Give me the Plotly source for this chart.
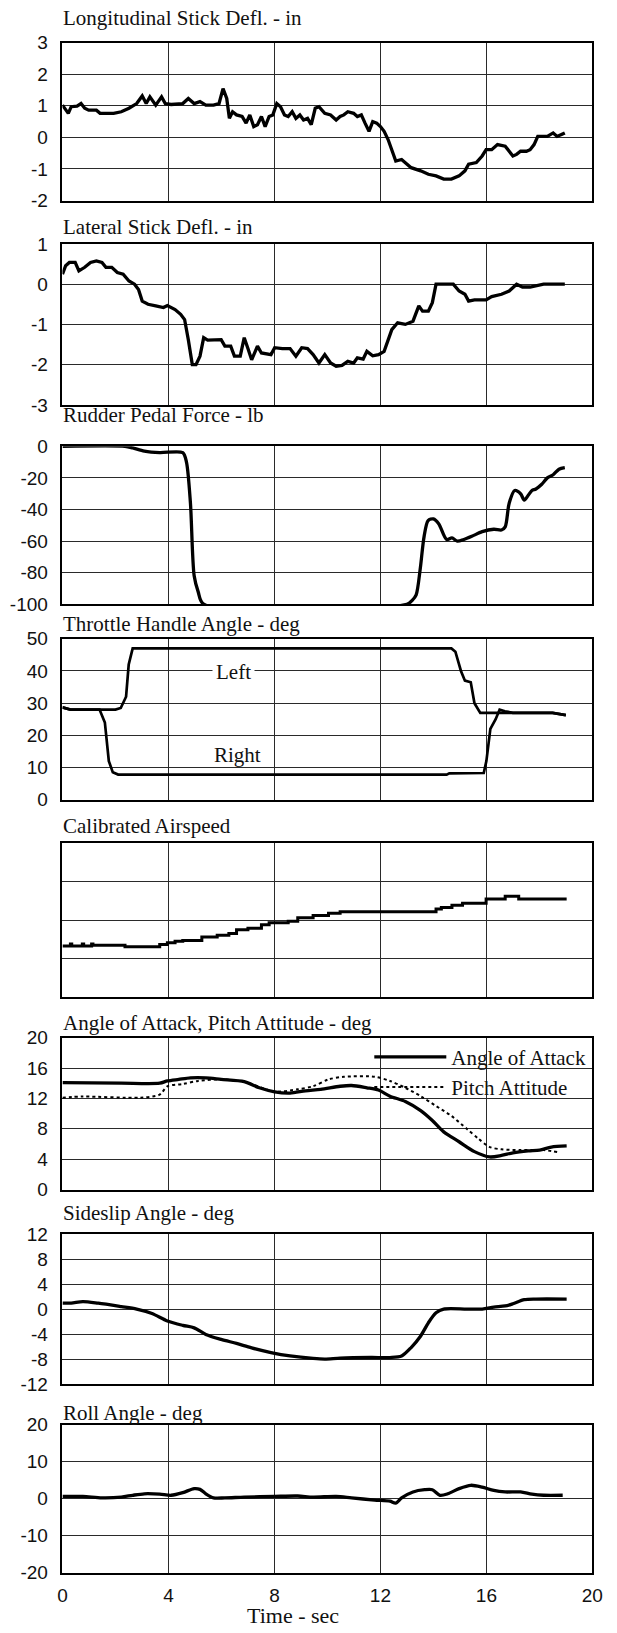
import plotly.graph_objects as go

W, H = 617, 1633

# ---------------- data (time in s) ----------------
long_t = [0.0,0.12,0.22,0.33,0.55,0.70,0.84,0.99,1.28,1.42,1.93,2.22,2.51,2.80,3.01,3.16,3.30,3.52,3.74,3.88,
          4.10,4.54,4.75,4.97,5.19,5.41,5.70,5.91,6.06,6.20,6.30,6.42,6.57,6.78,6.93,7.07,7.22,7.36,7.51,7.65,
          7.80,7.94,8.09,8.23,8.38,8.52,8.67,8.81,8.96,9.10,9.25,9.39,9.54,9.68,9.90,10.12,10.33,10.48,10.62,10.77,
          10.99,11.13,11.28,11.42,11.57,11.71,11.86,12.00,12.14,12.29,12.43,12.58,12.80,13.01,13.16,13.52,13.81,14.10,14.39,14.68,
          14.97,15.19,15.33,15.62,15.84,15.99,16.20,16.42,16.71,16.86,17.00,17.14,17.29,17.51,17.65,17.80,17.94,18.09,18.30,18.52,
          18.67,18.81,18.96]
long_v = [1.02,0.86,0.76,0.97,0.99,1.07,0.92,0.86,0.86,0.76,0.76,0.81,0.92,1.07,1.31,1.07,1.28,1.02,1.28,1.07,
          1.04,1.07,1.23,1.07,1.13,1.02,1.02,1.07,1.54,1.23,0.60,0.81,0.71,0.66,0.45,0.71,0.34,0.40,0.66,0.34,
          0.66,0.71,1.07,0.97,0.71,0.66,0.81,0.60,0.71,0.55,0.60,0.40,0.92,0.97,0.76,0.71,0.55,0.66,0.71,0.81,
          0.76,0.66,0.71,0.45,0.19,0.50,0.45,0.34,0.19,-0.07,-0.44,-0.75,-0.70,-0.85,-0.96,-1.06,-1.17,-1.22,-1.32,-1.32,
          -1.22,-1.06,-0.85,-0.80,-0.59,-0.39,-0.39,-0.23,-0.28,-0.44,-0.59,-0.54,-0.44,-0.44,-0.39,-0.23,0.03,0.03,0.03,0.14,
          0.03,0.08,0.14]

lat_t = [0.0,0.12,0.26,0.48,0.62,0.84,1.06,1.28,1.49,1.64,1.86,2.07,2.29,2.51,2.72,2.87,3.01,3.23,3.52,3.81,
         3.96,4.25,4.46,4.61,4.75,4.90,5.04,5.19,5.33,5.48,5.99,6.13,6.35,6.49,6.71,6.86,7.00,7.14,7.36,7.51,
         7.87,8.01,8.30,8.59,8.81,9.03,9.25,9.46,9.68,9.90,10.12,10.33,10.55,10.77,10.99,11.13,11.35,11.49,11.71,11.93,
         12.14,12.29,12.43,12.65,12.94,13.23,13.45,13.59,13.81,13.96,14.10,14.25,14.75,14.97,15.19,15.33,15.55,15.99,16.20,16.57,
         16.86,17.14,17.36,17.65,17.87,18.16,18.96]
lat_v = [0.25,0.46,0.54,0.54,0.33,0.42,0.54,0.58,0.54,0.42,0.42,0.29,0.25,0.08,0.0,-0.13,-0.42,-0.50,-0.54,-0.58,
         -0.53,-0.63,-0.75,-0.88,-1.38,-2.0,-2.0,-1.79,-1.33,-1.39,-1.38,-1.54,-1.54,-1.79,-1.79,-1.33,-1.6,-1.88,-1.54,-1.71,
         -1.75,-1.58,-1.6,-1.6,-1.79,-1.58,-1.6,-1.75,-1.96,-1.75,-1.96,-2.04,-2.02,-1.92,-1.96,-1.83,-1.86,-1.67,-1.78,-1.75,
         -1.67,-1.38,-1.13,-0.96,-1.0,-0.92,-0.54,-0.67,-0.67,-0.46,0.0,0.0,0.0,-0.17,-0.25,-0.42,-0.39,-0.39,-0.31,-0.25,
         -0.17,0.0,-0.07,-0.07,-0.04,0.0,0.0]

rud_t = [0,2.36,2.65,3.09,3.67,4.54,4.68,4.83,4.97,5.12,5.33,13.0,13.2,13.35,13.5,13.65,13.8,14.0,14.2,14.5,
         14.7,14.9,15.15,15.45,15.84,16.28,16.57,16.71,16.86,17.07,17.29,17.43,17.58,17.72,17.87,18.09,18.30,18.52,18.74,18.96]
rud_v = [0,0,-1,-3,-4,-4,-10,-36,-82,-92,-100,-100,-97.5,-94,-78,-57,-47,-46,-49,-59,
         -58,-60,-59,-57,-54,-52.5,-53,-51,-36,-28,-30,-34,-31,-28,-27,-24,-20,-18,-14.5,-13.5]

thr_left_t = [0,0.3,2.0,2.2,2.4,2.5,2.65,14.68,14.83,15.04,15.19,15.41,15.55,15.77,16.5,17.0,18.5,19.0]
thr_left_v = [28.7,28,28,28.5,32,42,47,47,46,40,37,36.5,30,27,27,27,27,26.3]
thr_right_t = [0,0.3,1.4,1.6,1.75,1.9,2.1,14.5,14.6,15.9,16.0,16.15,16.35,16.5,16.7,17.0,18.5,19.0]
thr_right_v = [28.7,28,28,24,12,8.5,7.8,7.8,8.2,8.3,12,22,25,28,27.5,27,27,26.3]

cas_t = [0,0.3,0.35,0.75,0.8,1.1,1.15,2.36,3.67,3.96,4.25,4.54,5.26,5.84,6.28,6.57,7.0,7.51,7.80,8.52,
         8.88,9.46,10.04,10.48,14.1,14.3,14.7,15.1,15.99,16.71,17.22,19.03]
cas_v = [1.33,1.38,1.33,1.38,1.33,1.38,1.35,1.31,1.37,1.41,1.45,1.47,1.56,1.61,1.65,1.75,1.79,1.88,1.93,1.97,
         2.06,2.12,2.18,2.22,2.29,2.33,2.39,2.44,2.55,2.62,2.55,2.55]

aoa_t = [0,2.22,3.67,3.96,4.39,4.83,5.41,5.99,6.86,7.43,8.01,8.59,9.17,9.75,10.48,10.91,11.49,11.93,12.36,12.94,
         13.52,13.96,14.39,14.97,15.55,16.13,16.57,17.0,17.58,18.01,18.45,19.03]
aoa_v = [14.07,14.0,14.0,14.3,14.5,14.7,14.7,14.5,14.2,13.4,12.86,12.7,13.0,13.2,13.6,13.7,13.4,13.1,12.3,11.6,
         10.4,9.1,7.6,6.3,5.0,4.3,4.5,4.85,5.1,5.2,5.6,5.75]
pitch_t = [0,0.77,2.94,3.67,3.96,4.54,5.12,5.99,6.86,8.01,8.88,9.46,10.04,10.62,11.78,12.36,12.94,13.52,14.10,14.68,
           15.26,15.70,16.13,16.57,17.29,18.16,18.74]
pitch_v = [12.1,12.25,12.1,12.5,13.6,13.9,14.3,14.5,14.2,12.9,13.2,13.6,14.5,14.85,14.85,14.3,13.4,12.3,11.0,9.7,
           8.0,6.7,5.6,5.3,5.2,5.2,4.9]

beta_t = [0,0.33,0.77,1.35,2.22,2.80,3.38,3.96,4.54,4.97,5.41,5.99,6.57,7.14,7.87,8.59,9.46,9.90,10.48,11.64,
          12.36,12.80,13.16,13.52,13.81,14.10,14.39,15.26,15.84,16.28,16.71,17.0,17.43,17.87,19.03]
beta_v = [0.95,0.95,1.2,0.95,0.4,0,-0.7,-1.9,-2.6,-3.0,-4.05,-4.85,-5.5,-6.2,-6.95,-7.5,-7.9,-8.0,-7.85,-7.75,
          -7.75,-7.5,-6.15,-4.3,-2.2,-0.6,0,0,0,0.3,0.5,0.85,1.5,1.6,1.6]

roll_t = [0,0.77,1.49,2.22,2.65,3.09,3.67,4.10,4.54,4.97,5.19,5.41,5.70,6.13,6.86,8.01,8.88,9.46,10.33,10.91,
          11.78,12.36,12.58,12.80,13.23,13.67,13.96,14.25,14.54,14.97,15.41,15.84,16.28,16.71,17.29,17.72,18.16,18.88]
roll_v = [0.6,0.6,0.2,0.4,0.9,1.3,1.2,0.9,1.6,2.7,2.5,1.3,0.2,0.2,0.4,0.6,0.7,0.4,0.6,0.2,
          -0.4,-0.7,-1.2,0.2,1.8,2.4,2.4,0.9,1.3,2.7,3.6,3.1,2.2,1.8,1.8,1.2,0.9,0.9]

# ---------------- tick labels ----------------
x_ticks = [0, 4, 8, 12, 16, 20]
x_tick_text = ["0", "4", "8", "12", "16", "20"]
titles = ["Longitudinal Stick Defl. - in", "Lateral Stick Defl. - in", "Rudder Pedal Force - lb",
          "Throttle Handle Angle - deg", "Calibrated Airspeed", "Angle of Attack, Pitch Attitude - deg",
          "Sideslip Angle - deg", "Roll Angle - deg"]
y_ticks = [
    [-2, -1, 0, 1, 2, 3],
    [-3, -2, -1, 0, 1],
    [-100, -80, -60, -40, -20, 0],
    [0, 10, 20, 30, 40, 50],
    [0, 1, 2, 3, 4],
    [0, 4, 8, 12, 16, 20],
    [-12, -8, -4, 0, 4, 8, 12],
    [-20, -10, 0, 10, 20],
]
y_tick_text = [
    ["-2", "-1", "0", "1", "2", "3"],
    ["-3", "-2", "-1", "0", "1"],
    ["-100", "-80", "-60", "-40", "-20", "0"],
    ["0", "10", "20", "30", "40", "50"],
    ["", "", "", "", ""],
    ["0", "4", "8", "12", "16", "20"],
    ["-12", "-8", "-4", "0", "4", "8", "12"],
    ["-20", "-10", "0", "10", "20"],
]

# ---------------- layout geometry (pixels) ----------------
frames = [(33, 193), (237, 400), (442, 602), (637, 800), (844, 1000), (1041, 1195), (1240, 1392), (1433, 1583)]
title_y = [8, 220, 410, 622, 827, 1026, 1219, 1421]
X0, X1 = 59, 603

SERIF = "Liberation Serif, Times New Roman, serif"
SANS = "Liberation Sans, Arial, sans-serif"
INK = "#111111"
GRID = "#2a2a2a"

fig = go.Figure()

def ax(i):
    return ("x" if i == 1 else f"x{i}"), ("y" if i == 1 else f"y{i}")

def add(i, t, v, name=None, width=3.3, dash="solid", shape="linear", legend=False):
    xa, ya = ax(i)
    fig.add_trace(go.Scatter(x=t, y=v, mode="lines", xaxis=xa, yaxis=ya, name=name,
                             showlegend=legend,
                             line=dict(color="black", width=width, dash=dash, shape=shape,
                                       smoothing=0.8 if shape == "spline" else None)))

add(1, long_t, long_v)
add(2, lat_t, lat_v)
add(3, rud_t, rud_v, shape="spline")
add(4, thr_left_t, thr_left_v, name="Left", width=2.7)
add(4, thr_right_t, thr_right_v, name="Right", width=2.7)
add(5, cas_t, cas_v, width=3, shape="hv")
add(6, aoa_t, aoa_v, name="Angle of Attack", width=3.3, shape="spline", legend=True)
add(6, pitch_t, pitch_v, name="Pitch Attitude", width=2, dash="dot", shape="spline", legend=True)
add(7, beta_t, beta_v, shape="spline")
add(8, roll_t, roll_v, shape="spline")

layout = dict(width=W, height=H, autosize=False, margin=dict(l=0, r=0, t=0, b=0),
              paper_bgcolor="white", plot_bgcolor="white", showlegend=True)

yranges = [(-2, 3), (-3, 1), (-100, 0), (0, 50), (0, 4), (0, 20), (-12, 12), (-20, 20)]
for i in range(1, 9):
    top, bot = frames[i - 1]
    xk = "xaxis" if i == 1 else f"xaxis{i}"
    yk = "yaxis" if i == 1 else f"yaxis{i}"
    layout[xk] = dict(domain=[X0 / W, X1 / W], range=[0, 20], anchor=ax(i)[1],
                      tickvals=x_ticks, ticktext=x_tick_text, showticklabels=(i == 8),
                      tickfont=dict(family=SANS, size=19, color=INK), ticks="", ticklabelstandoff=5,
                      showgrid=True, gridcolor=GRID, gridwidth=1.4, zeroline=False,
                      showline=True, mirror=True, linecolor="black", linewidth=1.6, fixedrange=True)
    layout[yk] = dict(domain=[1 - bot / H, 1 - top / H], range=list(yranges[i - 1]), anchor=ax(i)[0],
                      tickvals=y_ticks[i - 1], ticktext=y_tick_text[i - 1],
                      tickfont=dict(family=SANS, size=19, color=INK), ticks="", ticklabelstandoff=9,
                      showgrid=True, gridcolor=GRID, gridwidth=1.4, zeroline=False,
                      showline=True, mirror=True, linecolor="black", linewidth=1.6, fixedrange=True)

annotations = []
for i, (txt, yc) in enumerate(zip(titles, title_y)):
    annotations.append(dict(text=txt, xref="paper", yref="paper", x=57 / W, y=1 - yc / H,
                            xanchor="left", yanchor="middle", showarrow=False,
                            font=dict(family=SERIF, size=21, color=INK)))
annotations.append(dict(text="Time - sec", xref="paper", yref="paper", x=296 / W, y=1 - 1626 / H,
                        xanchor="center", yanchor="middle", showarrow=False,
                        font=dict(family=SERIF, size=22, color=INK)))
annotations.append(dict(text="Left", xref="x4", yref="y4", x=6.45, y=39.6, showarrow=False,
                        bgcolor="white", borderpad=3, font=dict(family=SERIF, size=21, color=INK)))
annotations.append(dict(text="Right", xref="x4", yref="y4", x=6.6, y=14.0, showarrow=False,
                        font=dict(family=SERIF, size=21, color=INK)))
layout["annotations"] = annotations
layout["legend"] = dict(x=374 / W, y=1 - 1040 / H, xanchor="left", yanchor="top",
                        bgcolor="rgba(255,255,255,0)", borderwidth=0,
                        font=dict(family=SERIF, size=21, color=INK),
                        tracegroupgap=0, itemwidth=72)

fig.update_layout(**layout)
fig.write_html("out.html")
